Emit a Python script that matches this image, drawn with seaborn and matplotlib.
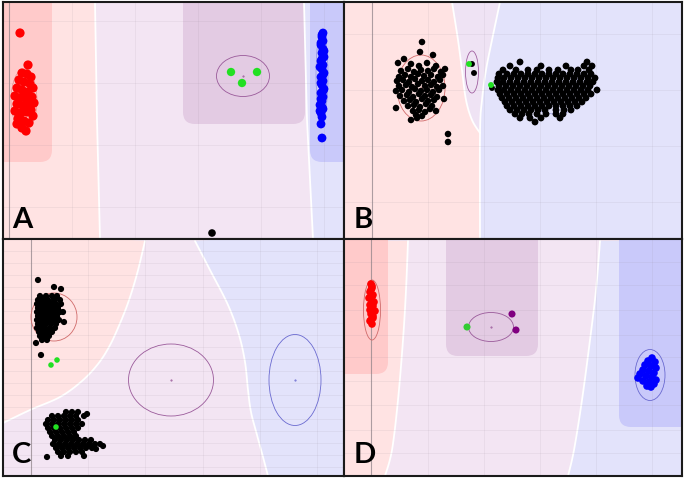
import numpy as np
import pandas as pd
import matplotlib
matplotlib.use('Agg')
import matplotlib.pyplot as plt
from matplotlib.patches import Ellipse, FancyBboxPatch
import seaborn as sns

sns.set_style('white')
plt.rcParams['font.family'] = ['Lato', 'DejaVu Sans']

# ---- colours of the decision regions ----
RED_L, RED_D = '#ffe3e3', '#ffcaca'
PUR_L, PUR_D = '#f3e5f3', '#e3cbe3'
BLU_L, BLU_D = '#e3e3fb', '#c9c9fa'

# ---- panel A (pixel-like units) ----
a_red = [(20, 33), (28, 65), (22, 73), (27, 74), (31, 77), (19, 80), (24, 82), (30, 84), (33, 88),
         (17, 88), (22, 90), (28, 92), (15, 96), (20, 98), (26, 99), (32, 97), (17, 104), (23, 106),
         (29, 105), (34, 103), (15, 111), (21, 113), (27, 112), (33, 116), (18, 119), (24, 121),
         (29, 123), (22, 128), (17, 124), (26, 131), (31, 110), (25, 95), (19, 116)]
a_blue = [(323, 33), (322, 37), (323, 41), (321, 45), (323, 49), (322, 53), (324, 57), (321, 61),
          (323, 65), (322, 69), (324, 73), (321, 77), (323, 81), (322, 85), (324, 89), (321, 93),
          (323, 97), (322, 101), (320, 105), (323, 109), (321, 113), (321, 124), (322, 138),
          (322, 35), (321, 43), (324, 51), (322, 59), (320, 67), (323, 75), (321, 83), (323, 91),
          (321, 99), (322, 107), (320, 111), (322, 117)]
a_green = [(231, 72), (257, 72), (242, 83)]
a_black = [(212, 233)]
a_red_bound = [(95, 2), (97, 120), (100, 239)]
a_blue_bound = [(304, 2), (307, 120), (313, 239)]

# ---- panel B ----
b_left = [(422, 42), (420, 52), (433, 55), (404, 59), (398, 63), (445, 69), (396, 108), (411, 120),
          (417, 118), (436, 111), (444, 99), (448, 134), (448, 142),
          (411, 64), (419, 66), (427, 63), (436, 66),
          (401, 71), (408, 69), (414, 72), (421, 70), (428, 71), (434, 69), (441, 72),
          (399, 77), (405, 75), (411, 77), (418, 74), (424, 76), (431, 75), (438, 77), (443, 75),
          (397, 81), (403, 80), (409, 82), (415, 79), (422, 81), (428, 80), (434, 82), (440, 80),
          (399, 86), (406, 85), (412, 87), (418, 84), (425, 86), (431, 85), (437, 87), (443, 86),
          (396, 91), (402, 90), (409, 92), (415, 89), (421, 91), (427, 90), (433, 92), (439, 90),
          (400, 96), (407, 95), (413, 97), (419, 94), (425, 96), (431, 95), (437, 97),
          (404, 101), (410, 100), (416, 102), (422, 99), (428, 101), (434, 100),
          (408, 106), (414, 105), (420, 107), (426, 104), (432, 106),
          (413, 111), (419, 110), (425, 112), (430, 109), (416, 115), (422, 116)]
b_right_rows = [
    (66, [510, 541, 566, 584, 592]),
    (70, [503, 516, 528, 537, 549, 558, 571, 578, 589]),
    (74, [499, 507, 514, 521, 528, 535, 542, 549, 556, 563, 570, 577, 584, 591]),
    (78, [498, 504, 511, 518, 525, 532, 539, 546, 553, 560, 567, 574, 581, 588, 595]),
    (82, [497, 503, 510, 517, 524, 531, 538, 545, 552, 559, 566, 573, 580, 587, 593]),
    (86, [499, 506, 513, 520, 527, 534, 541, 548, 555, 562, 569, 576, 583, 590]),
    (90, [498, 504, 511, 518, 525, 532, 539, 546, 553, 560, 567, 574, 581, 588, 597]),
    (94, [500, 507, 514, 521, 528, 535, 542, 549, 556, 563, 570, 577, 584, 591]),
    (98, [502, 509, 516, 523, 530, 537, 544, 551, 558, 565, 572, 579, 586]),
    (102, [505, 512, 519, 526, 533, 540, 547, 554, 561, 568, 575, 582]),
    (106, [507, 514, 521, 528, 535, 542, 549, 556, 563, 570, 577]),
    (110, [510, 517, 524, 531, 538, 545, 556, 564, 571]),
    (114, [515, 522, 529, 537, 546, 556, 563]),
    (118, [520, 530, 541, 560]),
    (122, [535]),
    (62, [520, 587]),
]
b_small_black = [(472, 64), (474, 73), (492, 88)]
b_small_green = [(469, 64), (491, 85)]
b_blue_bound = [(500, 2), (492, 40), (486, 70), (482, 100), (480, 133), (480, 239)]
b_wedge_left = [(452, 2), (458, 40), (462, 70), (466, 100), (472, 120), (480, 133)]

# ---- panel C ----
c_top_rows = [
    (296, [40, 46, 52, 57]), (300, [38, 43, 48, 54, 60]), (304, [37, 41, 46, 51, 56, 61]),
    (308, [38, 43, 48, 53, 58]), (312, [37, 41, 45, 50, 55, 60]), (316, [38, 42, 47, 52, 57]),
    (320, [37, 41, 45, 49, 54, 59]), (324, [38, 42, 46, 51, 56]), (328, [37, 41, 45, 50, 55]),
    (332, [39, 43, 47, 52]), (336, [40, 44, 49]), (340, [42, 47]),
]
c_top_extra = [(38, 280), (54, 287), (61, 289), (41, 355), (36, 343), (63, 312), (64, 322)]
c_low_rows = [
    (412, [66, 72, 78]), (416, [52, 58, 64, 70, 76, 84]), (420, [48, 54, 60, 66, 72, 78]),
    (424, [46, 52, 58, 64, 70, 76, 82]), (428, [48, 54, 60, 66, 72, 78]),
    (432, [50, 56, 62, 68, 74]), (436, [52, 58, 64, 70, 76]),
    (440, [55, 61, 67, 73, 79, 85, 91]), (444, [53, 59, 65, 71, 77, 83, 89, 95, 100]),
    (448, [56, 62, 68, 74, 80, 86, 92]), (452, [58, 64, 70, 76, 82]), (456, [61, 68, 84]),
]
c_low_extra = [(47, 457), (87, 414), (103, 446), (96, 449)]
c_green = [(51, 365), (57, 360), (56, 427)]
c_red_bound = [(3, 423), (30, 410), (60, 397), (82, 381), (98, 364), (109, 347), (118, 328),
               (128, 303), (137, 274), (145, 241)]
c_blue_bound = [(195, 241), (210, 270), (228, 305), (239, 335), (245, 362), (248, 390),
                (251, 412), (257, 435), (263, 457), (268, 476)]

# ---- panel D ----
d_red = [(371, 284), (372, 288), (370, 292), (373, 295), (371, 299), (374, 302), (370, 305),
         (372, 309), (375, 311), (371, 314), (373, 318), (370, 321), (372, 324), (373, 306),
         (369, 298), (372, 286), (371, 290), (372, 297), (370, 310), (373, 316), (371, 320)]
d_blue = [(652, 358), (648, 361), (655, 362), (645, 365), (651, 366), (656, 368), (643, 370),
          (649, 371), (654, 373), (640, 374), (646, 376), (652, 377), (656, 380), (643, 381),
          (649, 382), (654, 384), (647, 386), (651, 387), (638, 378)]
d_green = [(467, 327)]
d_purple = [(512, 314), (516, 330)]
d_red_bound = [(408, 241), (406, 290), (403, 340), (398, 400), (392, 450), (385, 476)]
d_blue_bound = [(600, 241), (596, 290), (590, 340), (582, 400), (574, 450), (568, 476)]

W, H = 685, 479
fig = plt.figure(figsize=(W / 100, H / 100), dpi=100)
fig.patch.set_facecolor('white')


def rows_to_pts(rows):
    return [(x, y) for y, xs in rows for x in xs]


def smooth(pts, n=12):
    # Catmull-Rom through the boundary points (drawing only)
    p = np.array(pts, dtype=float)
    p = np.vstack([p[0], p, p[-1]])
    out = []
    for i in range(1, len(p) - 2):
        p0, p1, p2, p3 = p[i - 1], p[i], p[i + 1], p[i + 2]
        for t in np.linspace(0, 1, n, endpoint=False):
            out.append(0.5 * ((2 * p1) + (-p0 + p2) * t + (2 * p0 - 5 * p1 + 4 * p2 - p3) * t ** 2
                              + (-p0 + 3 * p1 - 3 * p2 + p3) * t ** 3))
    out.append(p[-2])
    return [tuple(q) for q in out]


def make_ax(x0, x1, y0, y1, bg):
    ax = fig.add_axes([x0 / W, 1 - y1 / H, (x1 - x0) / W, (y1 - y0) / H])
    ax.set_xlim(x0, x1)
    ax.set_ylim(y1, y0)
    ax.set_facecolor(bg)
    ax.set_xticks([])
    ax.set_yticks([])
    for s in ax.spines.values():
        s.set_linewidth(1.5)
        s.set_color('#1a1a1a')
        s.set_zorder(10)
    return ax


def poly(ax, pts, color, z=1):
    xs, ys = zip(*pts)
    ax.fill(xs, ys, color=color, lw=0, zorder=z)


def bound_line(ax, pts):
    xs, ys = zip(*pts)
    ax.plot(xs, ys, color='white', lw=1.3, zorder=3)


def dark_box(ax, x0, y0, x1, y1, color):
    ax.add_patch(FancyBboxPatch((x0, y0), x1 - x0, y1 - y0,
                                boxstyle='round,pad=0,rounding_size=12',
                                fc=color, ec='none', zorder=2))


def grid(ax, xs, ys, axis_x):
    for x in xs:
        ax.axvline(x, color='#9a8a9a', lw=0.6, alpha=0.13, zorder=4)
    for y in ys:
        ax.axhline(y, color='#9a8a9a', lw=0.6, alpha=0.13, zorder=4)
    ax.axvline(axis_x, color='#8a7f85', lw=0.8, alpha=0.7, zorder=4)


def pts(ax, p, color, s):
    df = pd.DataFrame(p, columns=['x', 'y'])
    sns.scatterplot(data=df, x='x', y='y', color=color, s=s, edgecolor='none',
                    linewidth=0, legend=False, ax=ax, zorder=6)


def ell(ax, c, w, h, color, lw=0.6):
    ax.add_patch(Ellipse(c, w, h, fill=False, ec=color, lw=lw, zorder=5))
    ax.plot([c[0]], [c[1]], marker='.', ms=1, color=color, zorder=5)


def finish(ax, x0, x1, y0, y1, label, lx, ly):
    ax.set_xlim(x0, x1)
    ax.set_ylim(y1, y0)
    ax.set_xlabel('')
    ax.set_ylabel('')
    ax.text(lx, ly, label, fontsize=21, fontweight='bold', color='black',
            ha='left', va='baseline', zorder=8)


# ---------- A ----------
ax = make_ax(3, 344, 2, 239, PUR_L)
poly(ax, [(-10, 2)] + a_red_bound + [(-10, 239)], RED_L)
poly(ax, a_blue_bound + [(360, 239), (360, 2)], BLU_L)
dark_box(ax, -30, -30, 52, 162, RED_D)
dark_box(ax, 183, -30, 305, 124, PUR_D)
dark_box(ax, 310, -30, 380, 162, BLU_D)
bound_line(ax, a_red_bound)
bound_line(ax, a_blue_bound)
grid(ax, [72, 135, 198, 261, 324], [21, 83, 145, 207], 9)
ell(ax, (24, 100), 26, 62, '#e08080', 0.4)
ell(ax, (322, 75), 12, 90, '#8080e0', 0.4)
ell(ax, (243, 76), 53, 41, '#9a5a9a')
pts(ax, a_red, '#ff0000', 44)
pts(ax, a_blue, '#0000ff', 40)
pts(ax, a_green, '#22e022', 36)
pts(ax, a_black, '#000000', 30)
finish(ax, 3, 344, 2, 239, 'A', 12, 228)

# ---------- B ----------
ax = make_ax(344, 682, 2, 239, RED_L)
b_blue_s = smooth(b_blue_bound)
b_wedge_s = smooth(b_wedge_left)
poly(ax, b_blue_s + [(700, 239), (700, 2)], BLU_L)
poly(ax, b_wedge_s + smooth(b_blue_bound[:-1])[::-1], '#efe3f4')
bound_line(ax, b_wedge_s)
bound_line(ax, b_blue_s)
grid(ax, [428, 484, 540, 596, 652], [34, 90, 146, 202], 372)
ell(ax, (421, 88), 48, 66, '#d06a6a')
ell(ax, (472, 72), 13, 42, '#a060a0')
ell(ax, (555, 93), 60, 42, '#8080d0', 0.4)
pts(ax, b_left, '#000000', 22)
pts(ax, rows_to_pts(b_right_rows), '#000000', 24)
pts(ax, b_small_black, '#000000', 18)
pts(ax, b_small_green, '#22e022', 18)
finish(ax, 344, 682, 2, 239, 'B', 354, 228)

# ---------- C ----------
ax = make_ax(3, 344, 239, 476, PUR_L)
c_red_s = smooth(c_red_bound)
c_blue_s = smooth(c_blue_bound)
poly(ax, [(-10, 430)] + c_red_s + [(-10, 230)], RED_L)
poly(ax, c_blue_s + [(360, 490), (360, 230)], BLU_L)
bound_line(ax, c_red_s)
bound_line(ax, c_blue_s)
grid(ax, [88, 145, 203, 260, 317], list(range(251, 476, 12)), 31)
ell(ax, (54, 317), 46, 48, '#d06a6a')
ell(ax, (171, 380), 85, 72, '#9a5a9a')
ell(ax, (295, 380), 52, 91, '#6a6ad0')
pts(ax, rows_to_pts(c_top_rows) + c_top_extra, '#000000', 20)
pts(ax, rows_to_pts(c_low_rows) + c_low_extra, '#000000', 20)
pts(ax, c_green, '#22e022', 16)
finish(ax, 3, 344, 239, 476, 'C', 12, 463)

# ---------- D ----------
ax = make_ax(344, 682, 239, 476, PUR_L)
d_red_s = smooth(d_red_bound)
d_blue_s = smooth(d_blue_bound)
poly(ax, [(330, 241)] + d_red_s + [(330, 476)], RED_L)
poly(ax, d_blue_s + [(700, 476), (700, 241)], BLU_L)
dark_box(ax, 320, 200, 388, 374, RED_D)
dark_box(ax, 446, 200, 538, 356, PUR_D)
dark_box(ax, 619, 200, 720, 427, BLU_D)
bound_line(ax, d_red_s)
bound_line(ax, d_blue_s)
grid(ax, [428, 484, 540, 596, 652], [262, 285, 310, 335, 357, 381, 405, 430, 453], 371)
ell(ax, (372, 310), 17, 60, '#d06a6a')
ell(ax, (491, 327), 45, 29, '#9a5a9a')
ell(ax, (650, 375), 30, 51, '#6a6ad0')
pts(ax, d_red, '#ff0000', 30)
pts(ax, d_blue, '#0000ff', 30)
pts(ax, d_green, '#33cc33', 26)
pts(ax, d_purple, '#800080', 26)
finish(ax, 344, 682, 239, 476, 'D', 354, 463)

fig.savefig('out.png', dpi=100, facecolor='white')
